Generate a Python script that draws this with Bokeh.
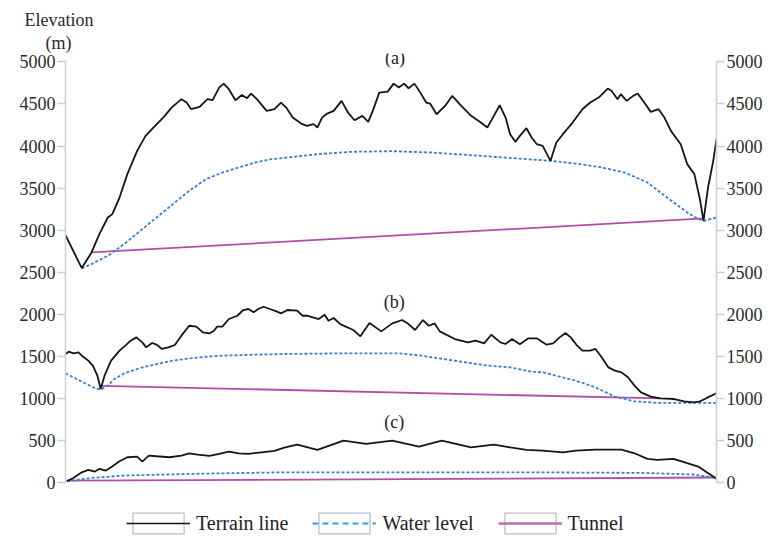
from bokeh.plotting import figure
from bokeh.models import Range1d, LinearAxis, FixedTicker, Label, Legend, LegendItem, Title
from bokeh.embed import file_html
from bokeh.resources import INLINE

# ---------------- data (distance along route in %, elevation in m) ----------------
terrain_a_x = [0.0, 2.5, 4.0, 5.2, 6.5, 7.2, 8.3, 9.5, 11.0, 12.3, 13.5, 15.0, 16.3, 17.8, 18.6, 19.3,
               20.6, 21.8, 22.6, 23.6, 24.3, 25.1, 26.1, 27.1, 27.9, 28.5, 29.4, 30.9, 32.1, 33.1, 33.9,
               34.9, 36.2, 37.1, 38.1, 38.7, 39.4, 40.2, 41.2, 42.4, 43.4, 44.4, 45.6, 46.5, 47.2, 48.2,
               49.5, 50.4, 51.2, 52.0, 52.7, 53.6, 54.5, 55.4, 56.0, 57.0, 58.3, 59.4, 60.8, 62.3, 63.8,
               64.8, 65.8, 66.7, 67.6, 68.3, 69.1, 69.8, 70.8, 71.6, 72.4, 73.3, 74.5, 75.4, 76.4, 77.9,
               79.4, 80.6, 81.9, 83.3, 83.9, 84.8, 85.3, 86.2, 87.2, 87.9, 88.9, 89.9, 91.1, 92.0, 93.0,
               94.5, 95.5, 96.6, 97.5, 98.0, 98.7, 99.5, 100.0]
terrain_a_y = [2940, 2550, 2735, 2953, 3151, 3191, 3388, 3666, 3943, 4121, 4220, 4338, 4457, 4557, 4517, 4438,
               4465, 4557, 4545, 4695, 4742, 4676, 4545, 4608, 4569, 4624, 4557, 4418, 4438, 4517, 4457,
               4338, 4267, 4240, 4260, 4220, 4338, 4386, 4418, 4537, 4398, 4307, 4359, 4287, 4418, 4635,
               4647, 4742, 4695, 4742, 4687, 4742, 4635, 4517, 4505, 4378, 4477, 4596, 4477, 4359, 4279,
               4220, 4359, 4485, 4338, 4141, 4050, 4121, 4212, 4101, 4022, 4002, 3824, 4042, 4141, 4279,
               4438, 4517, 4576, 4683, 4655, 4557, 4616, 4537, 4596, 4624, 4517, 4406, 4438, 4338, 4180,
               4022, 3785, 3666, 3349, 3111, 3507, 3824, 4082]

water_a_x = [2.5, 4.0, 6.5, 9.0, 11.5, 14.0, 16.5, 19.0, 21.6, 24.1, 26.6, 29.1, 31.6, 35.1, 38.7, 43.7,
             50.2, 56.3, 63.8, 69.8, 74.5, 78.4, 82.4, 85.9, 89.4, 92.4, 95.5, 97.2, 98.1, 100.0]
water_a_y = [2545, 2597, 2696, 2834, 2993, 3151, 3310, 3468, 3607, 3685, 3745, 3804, 3844, 3872, 3903, 3931,
             3939, 3923, 3883, 3850, 3824, 3792, 3745, 3685, 3566, 3388, 3210, 3131, 3111, 3151]

tunnel_a_x = [4.0, 98.1]
tunnel_a_y = [2735, 3140]

terrain_b_x = [0.0, 0.5, 1.2, 2.0, 2.5, 3.5, 4.2, 4.9, 5.4, 6.0, 7.0, 8.3, 9.2, 10.0, 10.9, 11.8, 12.4,
               13.3, 14.0, 14.8, 15.8, 16.8, 17.8, 19.0, 20.1, 21.1, 22.1, 22.8, 23.3, 24.1, 25.1, 26.4,
               27.3, 28.1, 28.9, 29.6, 30.4, 31.4, 32.4, 33.1, 34.1, 35.6, 36.4, 37.1, 38.9, 39.8, 40.4,
               41.2, 42.2, 44.2, 45.3, 46.7, 48.5, 50.2, 51.7, 52.7, 53.7, 54.9, 55.8, 56.7, 57.5, 59.8,
               61.8, 63.0, 64.3, 65.4, 66.8, 67.6, 68.6, 69.8, 71.1, 72.4, 73.9, 74.9, 75.9, 76.8, 77.6,
               78.6, 79.4, 80.6, 81.4, 82.2, 83.4, 84.4, 85.4, 86.4, 87.4, 88.4, 89.9, 91.4, 93.5, 95.0,
               96.5, 97.5, 98.5, 100.0]
terrain_b_y = [1528, 1556, 1536, 1548, 1508, 1449, 1390, 1271, 1113, 1271, 1449, 1568, 1627, 1686, 1726, 1666, 1607,
               1659, 1639, 1588, 1607, 1635, 1746, 1864, 1853, 1785, 1773, 1805, 1853, 1853, 1944, 1983,
               2051, 2063, 2023, 2063, 2090, 2063, 2035, 2011, 2051, 2043, 1983, 1983, 1944, 1995, 1924,
               1956, 1884, 1813, 1738, 1896, 1797, 1892, 1932, 1884, 1813, 1932, 1864, 1892, 1797, 1706,
               1666, 1686, 1654, 1757, 1666, 1647, 1706, 1645, 1714, 1714, 1639, 1654, 1726, 1778, 1726,
               1627, 1568, 1568, 1588, 1508, 1369, 1330, 1310, 1251, 1152, 1072, 1021, 1001, 993, 966,
               954, 966, 1006, 1061]

water_b_x = [0.0, 1.4, 3.0, 4.5, 5.4, 6.5, 7.5, 9.0, 11.5, 14.0, 16.5, 19.0, 21.6, 24.1, 29.1, 33.6,
             42.2, 51.2, 54.7, 59.8, 64.8, 68.3, 71.3, 73.3, 78.4, 81.4, 84.4, 87.4, 90.9, 95.9, 100.0]
water_b_y = [1298, 1243, 1180, 1124, 1104, 1152, 1231, 1298, 1362, 1409, 1449, 1476, 1496, 1508, 1520, 1528,
             1536, 1536, 1508, 1449, 1390, 1369, 1322, 1310, 1211, 1132, 1021, 966, 947, 947, 947]

tunnel_b_x = [5.6, 91.4]
tunnel_b_y = [1150, 1000]

terrain_c_x = [0.2, 1.2, 2.5, 3.5, 4.5, 5.2, 6.2, 7.0, 8.3, 9.5, 11.0, 11.8, 12.8, 14.0, 16.0, 17.8,
               19.0, 20.3, 22.1, 23.6, 25.1, 26.6, 28.1, 30.1, 32.1, 33.6, 35.6, 38.7, 42.7, 46.2, 50.2,
               54.3, 57.8, 62.3, 65.8, 68.3, 70.8, 73.3, 76.4, 78.4, 81.4, 85.4, 87.4, 89.4, 90.9, 93.4,
               95.5, 97.2, 98.5, 100.0]
terrain_c_y = [16, 55, 122, 150, 131, 162, 143, 182, 253, 301, 309, 249, 321, 313, 301, 321,
               348, 333, 317, 341, 368, 348, 341, 360, 376, 415, 451, 388, 499, 459, 499,
               428, 499, 419, 451, 419, 388, 380, 360, 380, 392, 392, 348, 281, 269, 281,
               230, 190, 122, 44]

water_c_x = [0.2, 4.0, 9.0, 19.0, 33.6, 71.3, 88.9, 96.4, 100.0]
water_c_y = [16, 55, 83, 103, 122, 122, 115, 95, 55]

tunnel_c_x = [0.2, 100.0]
tunnel_c_y = [22, 60]

y_ticks = [0, 500, 1000, 1500, 2000, 2500, 3000, 3500, 4000, 4500, 5000]
panel_names = ["(a)", "(b)", "(c)"]
legend_names = ["Terrain line", "Water level", "Tunnel"]

# ---------------- styles ----------------
FONT = "Liberation Serif"
TERRAIN = "#151515"
WATER = "#3a7fd2"
TUNNEL = "#b14ea8"
AXIS = "#cfcfcf"

# the frame reaches below 0 so the legend can sit under the profiles
p = figure(width=765, height=537, output_backend="svg", toolbar_location=None,
           x_range=Range1d(0, 100), y_range=Range1d(-653, 5100),
           x_axis_location=None, y_axis_location="left",
           min_border_left=65, min_border_right=10, min_border_top=53, min_border_bottom=0)
p.outline_line_color = None
p.grid.visible = False
p.background_fill_color = "white"

right = LinearAxis()
p.add_layout(right, "right")

for ax in p.yaxis:
    ax.ticker = FixedTicker(ticks=y_ticks)
    ax.bounds = (0, 5000)
    ax.axis_line_color = AXIS
    ax.axis_line_width = 1.5
    ax.major_tick_line_color = AXIS
    ax.major_tick_line_width = 1.5
    ax.major_tick_out = 8
    ax.major_tick_in = 0
    ax.minor_tick_line_color = None
    ax.major_label_text_font = FONT
    ax.major_label_text_font_size = "18px"
    ax.major_label_text_color = "#2a2a2a"
p.yaxis[0].major_label_standoff = 2
right.major_label_standoff = 2

sets = [(terrain_a_x, terrain_a_y, water_a_x, water_a_y, tunnel_a_x, tunnel_a_y),
        (terrain_b_x, terrain_b_y, water_b_x, water_b_y, tunnel_b_x, tunnel_b_y),
        (terrain_c_x, terrain_c_y, water_c_x, water_c_y, tunnel_c_x, tunnel_c_y)]
for tx, ty, wx, wy, ux, uy in sets:
    p.line(ux, uy, line_color=TUNNEL, line_width=1.8)
    p.line(wx, wy, line_color=WATER, line_width=1.8, line_dash="3 2")
    p.line(tx, ty, line_color=TERRAIN, line_width=1.8)

# panel labels
label_pos = [(50.6, 5045), (50.5, 2150), (50.5, 724)]
for name, (lx, ly) in zip(panel_names, label_pos):
    p.add_layout(Label(x=lx, y=ly, text=name, text_font=FONT, text_font_size="18px",
                       text_color="#222222", text_align="center", text_baseline="middle"))

# axis title above the left axis
p.add_layout(Title(text="(m)", align="left", offset=-20, standoff=2, text_font=FONT,
                   text_font_size="18px", text_font_style="normal", text_color="#2a2a2a"), "above")
p.add_layout(Title(text="Elevation", align="left", offset=-41, standoff=0, text_font=FONT,
                   text_font_size="18px", text_font_style="normal", text_color="#2a2a2a"), "above")

# legend (off-range dummy renderers give the icons their own style)
box = p.rect(x=[0], y=[-5000], width=1, height=1, fill_alpha=0, line_color="#bdbdbd", line_width=1.2)
lg_t = p.line(x=[0, 1], y=[-5000, -5000], line_color=TERRAIN, line_width=1.6)
lg_w = p.line(x=[0, 1], y=[-5000, -5000], line_color="#2aa6e4", line_width=2, line_dash="6 4")
lg_u = p.line(x=[0, 1], y=[-5000, -5000], line_color="#c06bb8", line_width=2.5)

legend = Legend(items=[LegendItem(label=legend_names[0], renderers=[box, lg_t]),
                       LegendItem(label=legend_names[1], renderers=[box, lg_w]),
                       LegendItem(label=legend_names[2], renderers=[box, lg_u])],
                orientation="horizontal", location=(61, 1),
                glyph_width=64, glyph_height=26, label_standoff=6, spacing=24,
                padding=0, margin=0, border_line_color=None, background_fill_alpha=0,
                label_text_font=FONT, label_text_font_size="20px", label_text_color="#222222")
p.add_layout(legend)

open("out.html", "w").write(file_html(p, INLINE))
